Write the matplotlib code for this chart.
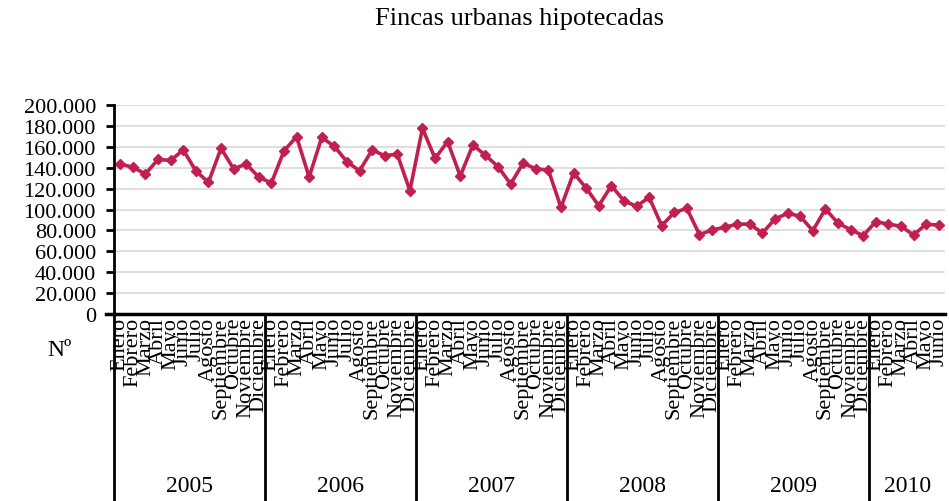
import matplotlib.pyplot as plt
import matplotlib.transforms as mtransforms
from matplotlib.ticker import FuncFormatter

# Datos
meses = ["Enero", "Febrero", "Marzo", "Abril", "Mayo", "Junio", "Julio",
         "Agosto", "Septiembre", "Octubre", "Noviembre", "Diciembre"]
años = ["2005", "2006", "2007", "2008", "2009", "2010"]
meses_por_año = [12, 12, 12, 12, 12, 6]

fincas = [
    143500, 140400, 134000, 148000, 147000, 157000, 137000, 126000, 158500, 139000, 143500, 131000,  # 2005
    125400, 156000, 169700, 131000, 169000, 160500, 145800, 137000, 157000, 151500, 153000, 118000,  # 2006
    177700, 149000, 165000, 132000, 161700, 152000, 141000, 124400, 144500, 138800, 137800, 102000,  # 2007
    135000, 120600, 103600, 122800, 108400, 103000, 111700, 84500, 97300, 101000, 76000, 80400,      # 2008
    83000, 86000, 86000, 77500, 91000, 96300, 93500, 79700, 100500, 87000, 80700, 75000,             # 2009
    88400, 86000, 84000, 75600, 86000, 85000,                                                         # 2010
]

etiquetas = []
for n in meses_por_año:
    etiquetas += meses[:n]

plt.rcParams['font.family'] = ['Liberation Serif', 'DejaVu Serif']

fig = plt.figure(figsize=(9.49, 5.02), dpi=100)
ax = fig.add_axes([0.1201, 0.3725, 0.8757, 0.4163])

x = list(range(len(fincas)))
ax.plot(x, fincas, color='#C0204E', linewidth=2.6, marker='D', markersize=5)

ax.set_xlim(-0.5, len(fincas) - 0.5)
ax.set_ylim(0, 200000)
ax.set_yticks(range(0, 200001, 20000))
ax.yaxis.set_major_formatter(FuncFormatter(lambda v, p: f"{v:,.0f}".replace(",", ".")))
ax.tick_params(axis='y', labelsize=16, length=6, width=2, pad=7)
ax.yaxis.grid(True, color='#d9d9d9', linewidth=1.2)
ax.set_axisbelow(True)

ax.set_xticks(x)
ax.set_xticklabels(etiquetas, rotation=90, fontsize=16)
ax.tick_params(axis='x', length=0, pad=2)

for s in ['top', 'right']:
    ax.spines[s].set_visible(False)
ax.spines['left'].set_linewidth(2)
ax.spines['bottom'].set_linewidth(2.5)

# Línea del eje 0 prolongada a la izquierda
ax.plot([-1.1, -0.5], [0, 0], color='black', linewidth=2.5, clip_on=False)

# Divisiones por año y etiquetas de año
trans = mtransforms.blended_transform_factory(ax.transData, fig.transFigure)
inicio = -0.5
for año, n in zip(años, meses_por_año):
    ax.plot([inicio, inicio], [0.0, 0.3725], color='black', linewidth=2,
            transform=trans, clip_on=False)
    ax.text(inicio + n / 2, 0.03, año, transform=trans, ha='center', va='center',
            fontsize=17)
    inicio += n

fig.text(0.063, 0.302, "Nº", ha='center', va='center', fontsize=17)
fig.text(0.547, 0.962, "Fincas urbanas hipotecadas", ha='center', va='center',
         fontsize=19)

fig.savefig("out.png", dpi=100)
